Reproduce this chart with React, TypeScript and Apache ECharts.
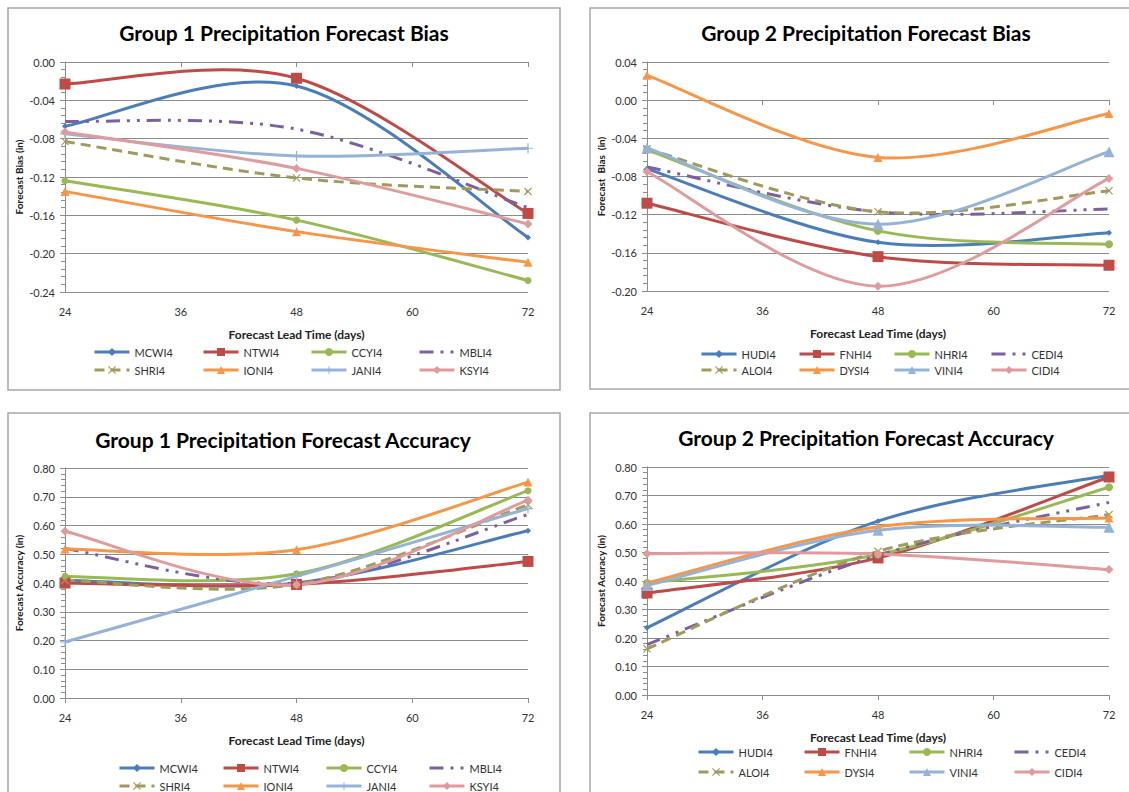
import React, { useEffect, useRef } from "react";
import * as echarts from "echarts";

// ---------- data ----------
const leadTimes = [24, 48, 72];

const group1Names = ["MCWI4", "NTWI4", "CCYI4", "MBLI4", "SHRI4", "IONI4", "JANI4", "KSYI4"];
const group2Names = ["HUDI4", "FNHI4", "NHRI4", "CEDI4", "ALOI4", "DYSI4", "VINI4", "CIDI4"];

// Group 1 bias
const mcwi4Bias = [-0.067, -0.025, -0.183];
const ntwi4Bias = [-0.023, -0.017, -0.158];
const ccyi4Bias = [-0.124, -0.165, -0.228];
const mbli4Bias = [-0.062, -0.070, -0.152];
const shri4Bias = [-0.083, -0.121, -0.135];
const ioni4Bias = [-0.135, -0.177, -0.209];
const jani4Bias = [-0.075, -0.098, -0.090];
const ksyi4Bias = [-0.073, -0.111, -0.169];

// Group 2 bias
const hudi4Bias = [-0.072, -0.149, -0.139];
const fnhi4Bias = [-0.108, -0.164, -0.173];
const nhri4Bias = [-0.052, -0.137, -0.151];
const cedi4Bias = [-0.070, -0.117, -0.114];
const aloi4Bias = [-0.051, -0.117, -0.095];
const dysi4Bias = [0.026, -0.060, -0.014];
const vini4Bias = [-0.050, -0.130, -0.054];
const cidi4Bias = [-0.075, -0.195, -0.082];

// Group 1 accuracy
const mcwi4Acc = [0.41, 0.40, 0.582];
const ntwi4Acc = [0.40, 0.395, 0.475];
const ccyi4Acc = [0.423, 0.432, 0.721];
const mbli4Acc = [0.52, 0.40, 0.638];
const shri4Acc = [0.41, 0.395, 0.672];
const ioni4Acc = [0.518, 0.516, 0.751];
const jani4Acc = [0.195, 0.423, 0.659];
const ksyi4Acc = [0.58, 0.394, 0.688];

// Group 2 accuracy
const hudi4Acc = [0.236, 0.61, 0.771];
const fnhi4Acc = [0.358, 0.481, 0.765];
const nhri4Acc = [0.393, 0.493, 0.729];
const cedi4Acc = [0.177, 0.49, 0.676];
const aloi4Acc = [0.162, 0.504, 0.633];
const dysi4Acc = [0.393, 0.59, 0.621];
const vini4Acc = [0.384, 0.578, 0.589];
const cidi4Acc = [0.496, 0.495, 0.44];

const titles = [
  "Group 1 Precipitation Forecast Bias",
  "Group 2 Precipitation Forecast Bias",
  "Group 1 Precipitation Forecast Accuracy",
  "Group 2 Precipitation Forecast Accuracy",
];
const yNames = ["Forecast Bias (in)", "Forecast  Bias  (in)", "Forecast Accuracy (in)", "Forecast Acuracy (in)"];
const xName = "Forecast Lead Time (days)";

const panelValues = [
  [mcwi4Bias, ntwi4Bias, ccyi4Bias, mbli4Bias, shri4Bias, ioni4Bias, jani4Bias, ksyi4Bias],
  [hudi4Bias, fnhi4Bias, nhri4Bias, cedi4Bias, aloi4Bias, dysi4Bias, vini4Bias, cidi4Bias],
  [mcwi4Acc, ntwi4Acc, ccyi4Acc, mbli4Acc, shri4Acc, ioni4Acc, jani4Acc, ksyi4Acc],
  [hudi4Acc, fnhi4Acc, nhri4Acc, cedi4Acc, aloi4Acc, dysi4Acc, vini4Acc, cidi4Acc],
];
const panelNames = [group1Names, group2Names, group1Names, group2Names];

// ---------- styling ----------
const FONT = "Lato, 'Open Sans', sans-serif";
const PLUS = "path://M4.4,0 H5.6 V4.4 H10 V5.6 H5.6 V10 H4.4 V5.6 H0 V4.4 H4.4 Z";
const CROSS = "path://M0,1 L1,0 L5,4 L9,0 L10,1 L6,5 L10,9 L9,10 L5,6 L1,10 L0,9 L4,5 Z";

const colors = ["#4A7EBB", "#BE4B48", "#98B954", "#7D60A0", "#A09B5B", "#F79646", "#95B3D7", "#E09C9C"];
const dashes: (number[] | null)[] = [null, null, null, [14, 7, 3, 7, 3, 7], [10, 6], null, null, null];
const g1Symbols = ["diamond", "rect", "circle", "none", CROSS, "triangle", PLUS, "diamond"];
const g1Sizes = [6, 11, 7, 0, 8, 9, 10, 9];
const g2Symbols = ["diamond", "rect", "circle", "none", CROSS, "triangle", "triangle", "diamond"];
const g2Sizes = [6, 11, 8, 0, 8, 9, 11, 9];

const grids = [
  { left: 65, top: 62, width: 463, height: 230 },
  { left: 647, top: 62, width: 462, height: 229 },
  { left: 65, top: 468, width: 463, height: 230 },
  { left: 647, top: 467, width: 462, height: 228 },
];
const yRanges = [
  { min: -0.24, max: 0, interval: 0.04 },
  { min: -0.2, max: 0.04, interval: 0.04 },
  { min: 0, max: 0.8, interval: 0.1 },
  { min: 0, max: 0.8, interval: 0.1 },
];
const titlePos = [
  [284, 32],
  [866, 32],
  [283, 439],
  [866, 437],
];
const legendCols = [
  [93, 202, 310, 418],
  [700, 798, 893, 990],
  [118, 222, 325, 428],
  [697, 803, 908, 1013],
];
const legendRows = [
  [352, 370],
  [354, 370],
  [768, 786],
  [752, 772],
];
const borders = [
  { x: 8, y: 8, width: 552, height: 382 },
  { x: 590, y: 8, width: 560, height: 381 },
  { x: 8, y: 413, width: 552, height: 400 },
  { x: 590, y: 413, width: 560, height: 400 },
];

// Smooth curve (Catmull-Rom style, like a spreadsheet's smoothed line) drawn through axis coords
function curveSeries(p: number, i: number) {
  const values = panelValues[p][i];
  const color = colors[i];
  const dash = dashes[i];
  return {
    type: "custom",
    coordinateSystem: "cartesian2d",
    xAxisIndex: p,
    yAxisIndex: p,
    silent: true,
    z: 2,
    data: [[leadTimes[0], values[0]]],
    renderItem: (_params: any, api: any) => {
      const pts = leadTimes.map((x, k) => api.coord([x, values[k]]));
      const n = pts.length;
      let d = `M${pts[0][0]},${pts[0][1]}`;
      for (let k = 0; k < n - 1; k++) {
        const p0 = pts[Math.max(k - 1, 0)];
        const p1 = pts[k];
        const p2 = pts[k + 1];
        const p3 = pts[Math.min(k + 2, n - 1)];
        const c1x = p1[0] + (p2[0] - p0[0]) / 6;
        const c1y = p1[1] + (p2[1] - p0[1]) / 6;
        const c2x = p2[0] - (p3[0] - p1[0]) / 6;
        const c2y = p2[1] - (p3[1] - p1[1]) / 6;
        d += ` C${c1x},${c1y} ${c2x},${c2y} ${p2[0]},${p2[1]}`;
      }
      return {
        type: "path",
        shape: { pathData: d },
        style: {
          fill: "none",
          stroke: color,
          lineWidth: 3,
          lineDash: dash || undefined,
          lineJoin: "round",
        },
      };
    },
  };
}

function buildOption() {
  const gray = "#8C8C8C";
  const labelColor = "#333";
  const xAxes: any[] = [];
  const yAxes: any[] = [];
  const series: any[] = [];
  const legends: any[] = [];
  const graphics: any[] = [];

  for (let p = 0; p < 4; p++) {
    xAxes.push({
      gridIndex: p,
      type: "value",
      min: 24,
      max: 72,
      interval: 12,
      name: xName,
      nameLocation: "middle",
      nameGap: 36,
      nameTextStyle: { fontFamily: FONT, fontSize: 12, fontWeight: "bold", color: "#222" },
      axisLine: { show: true, lineStyle: { color: gray, width: 1 } },
      axisTick: { show: true, length: 5, lineStyle: { color: gray } },
      axisLabel: { fontFamily: FONT, fontSize: 11, color: labelColor, margin: 14 },
      splitLine: { show: false },
    });
    yAxes.push({
      gridIndex: p,
      type: "value",
      min: yRanges[p].min,
      max: yRanges[p].max,
      interval: yRanges[p].interval,
      name: yNames[p],
      nameLocation: "middle",
      nameGap: 41,
      nameTextStyle: { fontFamily: FONT, fontSize: 10, fontWeight: "bold", color: "#222" },
      axisLine: { show: true, lineStyle: { color: gray, width: 1 } },
      axisTick: { show: true, length: 5, lineStyle: { color: gray } },
      minorTick: { show: true, splitNumber: 5, length: 4, lineStyle: { color: gray } },
      axisLabel: {
        fontFamily: FONT,
        fontSize: 11,
        color: labelColor,
        margin: 10,
        formatter: (v: number) => (Math.abs(v) < 1e-9 ? 0 : v).toFixed(2),
      },
      splitLine: { show: true, lineStyle: { color: gray, width: 1 } },
    });

    const names = panelNames[p];
    const symbols = p % 2 === 0 ? g1Symbols : g2Symbols;
    const sizes = p % 2 === 0 ? g1Sizes : g2Sizes;
    names.forEach((name, i) => {
      // markers + legend entry (line drawn by the curve series)
      series.push({
        type: "line",
        name,
        xAxisIndex: p,
        yAxisIndex: p,
        data: leadTimes.map((x, k) => [x, panelValues[p][i][k]]),
        symbol: symbols[i] === "none" ? "circle" : symbols[i],
        symbolSize: sizes[i],
        showSymbol: symbols[i] !== "none",
        lineStyle: { color: colors[i], width: 3, type: dashes[i] || "solid", opacity: 0 },
        itemStyle: { color: colors[i] },
        emphasis: { disabled: true },
        z: 3 + i,
      });
    });
    names.forEach((_name, i) => {
      const s: any = curveSeries(p, i);
      s.z = 2;
      series.push(s);
    });

    names.forEach((name, i) => {
      const col = i % 4;
      const row = Math.floor(i / 4);
      const item: any = { name };
      if (symbols[i] === "none") item.itemStyle = { opacity: 0 };
      legends.push({
        left: legendCols[p][col],
        top: legendRows[p][row] - 6.5,
        itemWidth: 35,
        itemHeight: 10,
        padding: 0,
        selectedMode: false,
        data: [item],
        lineStyle: { opacity: 1, width: 3 },
        textStyle: { fontFamily: FONT, fontSize: 11, color: "#333", lineHeight: 13 },
      });
    });

    graphics.push({
      type: "rect",
      shape: borders[p],
      silent: true,
      style: { fill: "none", stroke: "#A6A6A6", lineWidth: 1.5 },
    });
    graphics.push({
      type: "text",
      x: titlePos[p][0],
      y: titlePos[p][1],
      silent: true,
      style: {
        text: titles[p],
        align: "center",
        verticalAlign: "middle",
        fontFamily: FONT,
        fontSize: 21,
        fontWeight: "bold",
        fill: "#000",
      },
    });
  }

  return {
    animation: false,
    backgroundColor: "#fff",
    textStyle: { fontFamily: FONT },
    grid: grids,
    xAxis: xAxes,
    yAxis: yAxes,
    series,
    legend: legends,
    graphic: graphics,
  };
}

export default function App() {
  const ref = useRef<HTMLDivElement>(null);
  useEffect(() => {
    if (!ref.current) return;
    const chart = echarts.init(ref.current, undefined, { renderer: "svg" });
    chart.setOption(buildOption() as any);
    return () => chart.dispose();
  }, []);
  return (
    <div
      ref={ref}
      style={{ position: "absolute", left: 0, top: 0, width: 1129, height: 792, background: "#fff" }}
    />
  );
}
